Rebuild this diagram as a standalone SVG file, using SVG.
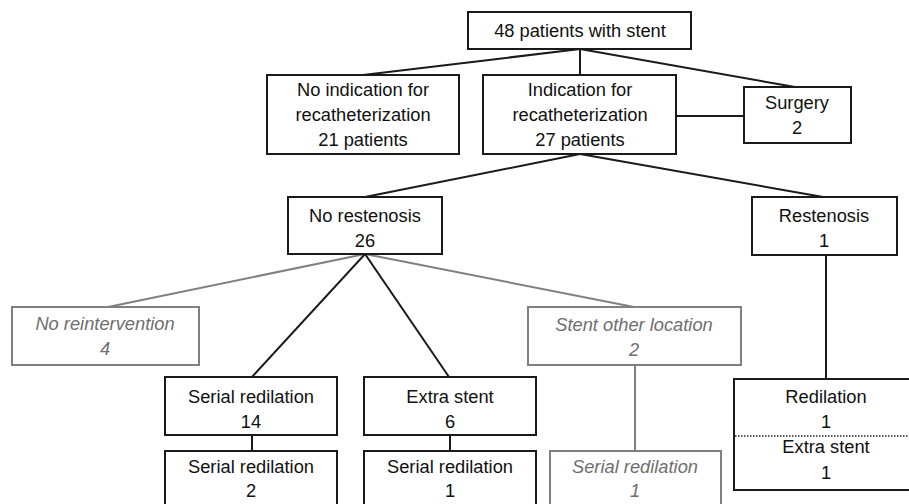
<svg xmlns="http://www.w3.org/2000/svg" width="909" height="504" viewBox="0 0 909 504">
<style>
  .box{fill:#fff;stroke:#1a1a1a;stroke-width:2}
  .gbox{fill:#fff;stroke:#808080;stroke-width:2}
  .t{font-family:"Liberation Sans",Arial,sans-serif;font-size:18.3px;fill:#111;text-anchor:middle}
  .g{font-family:"Liberation Sans",Arial,sans-serif;font-size:18.3px;fill:#6e6e6e;text-anchor:middle;font-style:italic}
  .ln{stroke:#1a1a1a;stroke-width:2;fill:none}
  .gln{stroke:#808080;stroke-width:2;fill:none}
</style>
<rect width="909" height="504" fill="#fff"/>
<g id="connectors">
  <line class="ln" x1="580" y1="49" x2="363" y2="75"/>
  <line class="ln" x1="580" y1="49" x2="580" y2="75"/>
  <line class="ln" x1="580" y1="49" x2="795" y2="87"/>
  <line class="ln" x1="676" y1="116" x2="744" y2="116"/>
  <line class="ln" x1="580" y1="154" x2="365" y2="197"/>
  <line class="ln" x1="580" y1="154" x2="823" y2="197"/>
  <line class="gln" x1="365" y1="254" x2="108" y2="307"/>
  <line class="gln" x1="365" y1="254" x2="634" y2="307"/>
  <line class="ln" x1="365" y1="254" x2="252" y2="377"/>
  <line class="ln" x1="365" y1="254" x2="449" y2="377"/>
  <line class="ln" x1="252" y1="435" x2="252" y2="451"/>
  <line class="ln" x1="450" y1="435" x2="450" y2="451"/>
  <line class="gln" x1="635" y1="365" x2="635" y2="451"/>
  <line class="ln" x1="826" y1="255" x2="826" y2="379"/>
</g>
<g id="n-top">
  <rect class="box" x="468" y="12" width="223" height="37"/>
  <text class="t" x="580" y="37">48 patients with stent</text>
</g>
<g id="n-noind">
  <rect class="box" x="267" y="75" width="192" height="79"/>
  <text class="t" x="363" y="96">No indication for</text>
  <text class="t" x="363" y="121">recatheterization</text>
  <text class="t" x="363" y="146">21 patients</text>
</g>
<g id="n-ind">
  <rect class="box" x="483" y="75" width="193" height="79"/>
  <text class="t" x="580" y="96">Indication for</text>
  <text class="t" x="580" y="121">recatheterization</text>
  <text class="t" x="580" y="146">27 patients</text>
</g>
<g id="n-surgery">
  <rect class="box" x="744" y="87" width="107" height="56"/>
  <text class="t" x="797" y="109">Surgery</text>
  <text class="t" x="797" y="134">2</text>
</g>
<g id="n-norest">
  <rect class="box" x="288" y="197" width="154" height="57"/>
  <text class="t" x="365" y="222">No restenosis</text>
  <text class="t" x="365" y="247">26</text>
</g>
<g id="n-rest">
  <rect class="box" x="752" y="197" width="145" height="58"/>
  <text class="t" x="824" y="222">Restenosis</text>
  <text class="t" x="824" y="247">1</text>
</g>
<g id="n-noreint">
  <rect class="gbox" x="12" y="307" width="187" height="58"/>
  <text class="g" x="105" y="330">No reintervention</text>
  <text class="g" x="105" y="355">4</text>
</g>
<g id="n-stentother">
  <rect class="gbox" x="528" y="307" width="213" height="58"/>
  <text class="g" x="634" y="331">Stent other location</text>
  <text class="g" x="634" y="356">2</text>
</g>
<g id="n-serial14">
  <rect class="box" x="165" y="377" width="172" height="58"/>
  <text class="t" x="251" y="403">Serial redilation</text>
  <text class="t" x="251" y="428">14</text>
</g>
<g id="n-extra6">
  <rect class="box" x="364" y="377" width="172" height="58"/>
  <text class="t" x="450" y="403">Extra stent</text>
  <text class="t" x="450" y="428">6</text>
</g>
<g id="n-serial2">
  <rect class="box" x="165" y="451" width="172" height="60"/>
  <text class="t" x="251" y="473">Serial redilation</text>
  <text class="t" x="251" y="497">2</text>
</g>
<g id="n-serial1">
  <rect class="box" x="364" y="451" width="172" height="60"/>
  <text class="t" x="450" y="473">Serial redilation</text>
  <text class="t" x="450" y="497">1</text>
</g>
<g id="n-serial1g">
  <rect class="gbox" x="550" y="451" width="171" height="60"/>
  <text class="g" x="635" y="473">Serial redilation</text>
  <text class="g" x="635" y="497">1</text>
</g>
<g id="n-redil">
  <rect class="box" x="734" y="379" width="185" height="111"/>
  <line x1="735" y1="436" x2="909" y2="436" stroke="#222" stroke-width="1.5" stroke-dasharray="1.5,1.5"/>
  <text class="t" x="826" y="403">Redilation</text>
  <text class="t" x="826" y="428">1</text>
  <text class="t" x="826" y="453">Extra stent</text>
  <text class="t" x="826" y="479">1</text>
</g>
</svg>
